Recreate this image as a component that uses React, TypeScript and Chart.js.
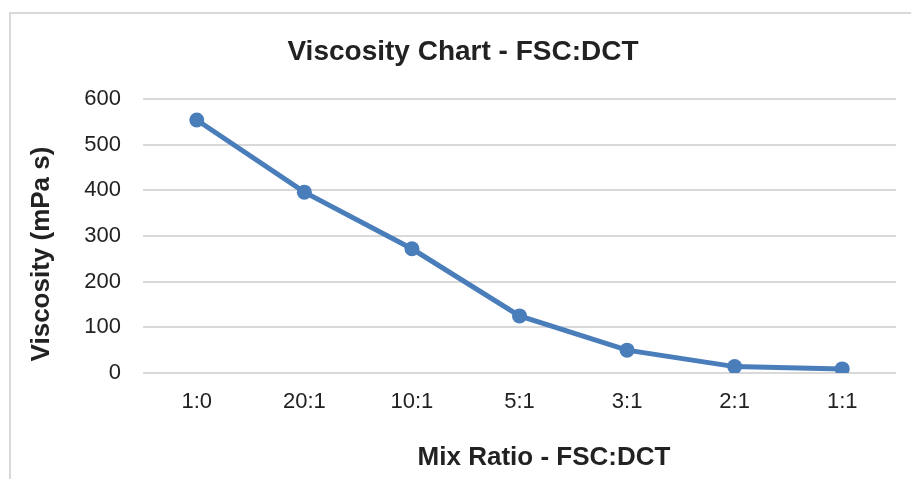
import React, { useEffect, useRef } from "react";
import { Chart, registerables } from "chart.js";

Chart.register(...registerables);

const categories = ["1:0", "20:1", "10:1", "5:1", "3:1", "2:1", "1:1"];
const viscosity = [554, 396, 272, 125, 50, 14, 9];
const chartTitle = "Viscosity Chart - FSC:DCT";
const xTitle = "Mix Ratio - FSC:DCT";
const yTitle = "Viscosity (mPa s)";

const FONT = "'Liberation Sans', Arial, sans-serif";
const TEXT = "#222222";
const GRID = "#d9d9d9";
const BLUE = "#4a7ebb";

const titlesPlugin = {
  id: "excelTitles",
  afterDraw(chart: any) {
    const ctx = chart.ctx;
    ctx.save();
    ctx.fillStyle = TEXT;
    ctx.textAlign = "center";
    ctx.textBaseline = "middle";
    ctx.font = `bold 28px ${FONT}`;
    ctx.fillText(chartTitle, 463, 52);
    ctx.font = `bold 26px ${FONT}`;
    ctx.fillText(xTitle, 544, 458);
    ctx.translate(42, 254);
    ctx.rotate(-Math.PI / 2);
    ctx.fillText(yTitle, 0, 0);
    ctx.restore();
  },
};

export default function App() {
  const ref = useRef<HTMLCanvasElement | null>(null);

  useEffect(() => {
    if (!ref.current) return;
    const chart = new Chart(ref.current, {
      type: "line",
      data: {
        labels: categories,
        datasets: [
          {
            label: "Viscosity",
            data: viscosity,
            borderColor: BLUE,
            backgroundColor: BLUE,
            borderWidth: 5,
            pointRadius: 7.5,
            pointHoverRadius: 7.5,
            pointBackgroundColor: BLUE,
            pointBorderColor: BLUE,
            pointBorderWidth: 0,
            tension: 0,
          },
        ],
      },
      plugins: [titlesPlugin],
      options: {
        animation: false,
        responsive: false,
        maintainAspectRatio: false,
        layout: { padding: { left: 0, top: 99, right: 15, bottom: 0 } },
        plugins: {
          legend: { display: false },
          tooltip: { enabled: false },
          title: { display: false },
        },
        scales: {
          x: {
            offset: true,
            grid: { display: false, drawTicks: false },
            border: { display: false },
            ticks: {
              color: TEXT,
              padding: 16,
              font: { family: FONT, size: 22, lineHeight: 1.2 },
              maxRotation: 0,
            },
            afterFit: (s: any) => {
              s.height = 106;
            },
          },
          y: {
            min: 0,
            max: 600,
            grid: { color: GRID, lineWidth: 2, drawTicks: false },
            border: { display: false },
            ticks: {
              stepSize: 100,
              color: TEXT,
              padding: 22,
              font: { family: FONT, size: 22, lineHeight: 1.2 },
            },
            afterFit: (s: any) => {
              s.width = 143;
            },
          },
        },
      },
    });
    return () => chart.destroy();
  }, []);

  return (
    <div
      style={{
        position: "fixed",
        left: 0,
        top: 0,
        width: 911,
        height: 479,
        overflow: "hidden",
        background: "#ffffff",
      }}
    >
      <div
        style={{
          position: "absolute",
          left: 9,
          top: 12,
          width: 1000,
          height: 1000,
          border: "2px solid #d9d9d9",
          boxSizing: "border-box",
        }}
      />
      <canvas
        ref={ref}
        width={911}
        height={479}
        style={{ position: "absolute", left: 0, top: 0, width: 911, height: 479 }}
      />
    </div>
  );
}
